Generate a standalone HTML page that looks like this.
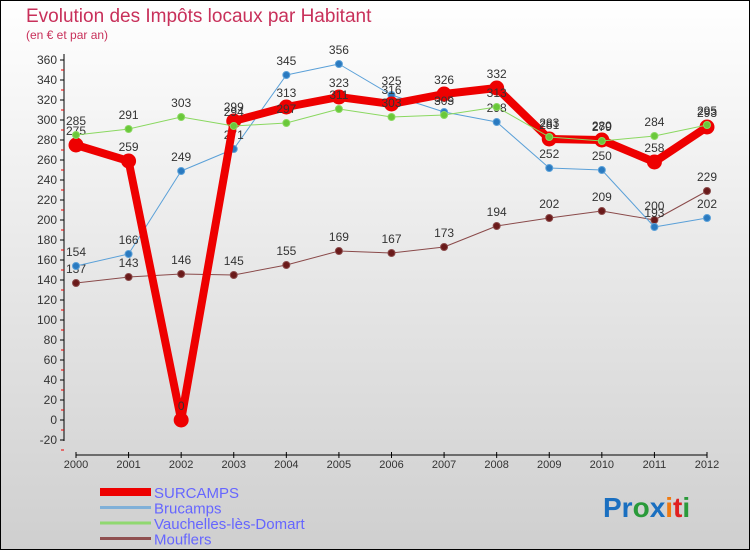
<!DOCTYPE html>
<html><head><meta charset="utf-8"><style>
body{margin:0;width:750px;height:550px;overflow:hidden;font-family:"Liberation Sans",sans-serif}
svg{display:block}
</style></head><body>
<svg id="c" width="750" height="550" xmlns="http://www.w3.org/2000/svg">
<defs><linearGradient id="bg" x1="0" y1="0" x2="0" y2="1"><stop offset="0" stop-color="#ffffff"/><stop offset="1" stop-color="#cfcfcf"/></linearGradient></defs>
<rect x="0.5" y="0.5" width="749" height="549" fill="url(#bg)" stroke="#000"/>
<text x="26" y="22" font-size="19" fill="#c8305a">Evolution des Impôts locaux par Habitant</text>
<text x="26" y="39" font-size="12" fill="#c8305a">(en € et par an)</text>
<g id="axes"></g><g id="series"></g><g id="legend"></g>
<text x="603" y="517" font-size="28" font-weight="bold"><tspan fill="#1a6fc0">Pr</tspan><tspan fill="#2a9a3a">o</tspan><tspan fill="#1a6fc0">x</tspan><tspan fill="#f07a10">i</tspan><tspan fill="#e02020">t</tspan><tspan fill="#2a9a3a">i</tspan></text>
</svg>
<script>
const years=[2000,2001,2002,2003,2004,2005,2006,2007,2008,2009,2010,2011,2012];
const surcamps=[275,259,0,299,313,323,316,326,332,281,280,258,293];
const brucamps=[154,166,249,271,345,356,325,308,298,252,250,193,202];
const vauchelles=[285,291,303,294,297,311,303,305,313,283,279,284,295];
const mouflers=[137,143,146,145,155,169,167,173,194,202,209,200,229];
const yTicks=[-20,0,20,40,60,80,100,120,140,160,180,200,220,240,260,280,300,320,340,360];
const NS='http://www.w3.org/2000/svg';
const X=i=>76+i*(707-76)/12, Y=v=>420-v;
function mk(t,a,p){const e=document.createElementNS(NS,t);for(const k in a)e.setAttribute(k,a[k]);p.appendChild(e);return e;}
const ax=document.getElementById('axes');
let l=mk('line',{x1:64,y1:54,x2:64,y2:441,stroke:'#000'},ax);


l=mk('line',{x1:76,y1:455,x2:707,y2:455,stroke:'#000'},ax);


yTicks.forEach(v=>{
 mk('line',{x1:60,y1:Y(v),x2:64,y2:Y(v),stroke:'#000'},ax);
 mk('line',{x1:61,y1:Y(v)+10,x2:64,y2:Y(v)+10,stroke:'#e00'},ax);
 const t=mk('text',{x:57,y:Y(v)+4,'font-size':12,'text-anchor':'end',fill:'#333'},ax);t.textContent=v;
 
 
});
years.forEach((y,i)=>{
 mk('line',{x1:X(i),y1:452,x2:X(i),y2:458,stroke:'#000'},ax);
 const t=mk('text',{x:X(i),y:468,'font-size':11,'text-anchor':'middle',fill:'#333'},ax);t.textContent=y;
 
 
});
const sg=document.getElementById('series');
function draw(data,name,col,dot,w,r){
 const g=mk('g',{},sg);
 
 
 const pl=mk('polyline',{points:data.map((v,i)=>X(i)+','+Y(v)).join(' '),fill:'none',stroke:col,'stroke-width':w,'stroke-linejoin':'round'},g);
 
 
 data.forEach((v,i)=>{
  const c=mk('circle',{cx:X(i),cy:Y(v),r:r,fill:dot,stroke:col,'stroke-width':1},g);
  
  
  const t=mk('text',{x:X(i),y:Y(v)-10,'font-size':12,'text-anchor':'middle',fill:'#333'},g);t.textContent=v;
  
  
 });
}
draw(mouflers,'mouflers','#8a4a4a','#6a1a1a',1,3.5);
draw(brucamps,'brucamps','#5aa0d8','#2a7ac0',1,3.5);
draw(surcamps,'surcamps','#ee0000','#ee0000',8,7);
draw(vauchelles,'vauchelles','#8ad860','#6ac83a',1,3.5);
const lg=document.getElementById('legend');
[['SURCAMPS','#ee0000',8],['Brucamps','#80b0d8',3],['Vauchelles-lès-Domart','#90d870',3],['Mouflers','#905050',3]].forEach((e,i)=>{
 const y=492+i*15.5;
 const r=mk('rect',{x:100,y:y-e[2]/2,width:51,height:e[2],fill:e[1]},lg);
 
 
 const t=mk('text',{x:154,y:y+6,'font-size':15,fill:'#6666ff'},lg);t.textContent=e[0];
 
 
});
</script>
</body></html>
